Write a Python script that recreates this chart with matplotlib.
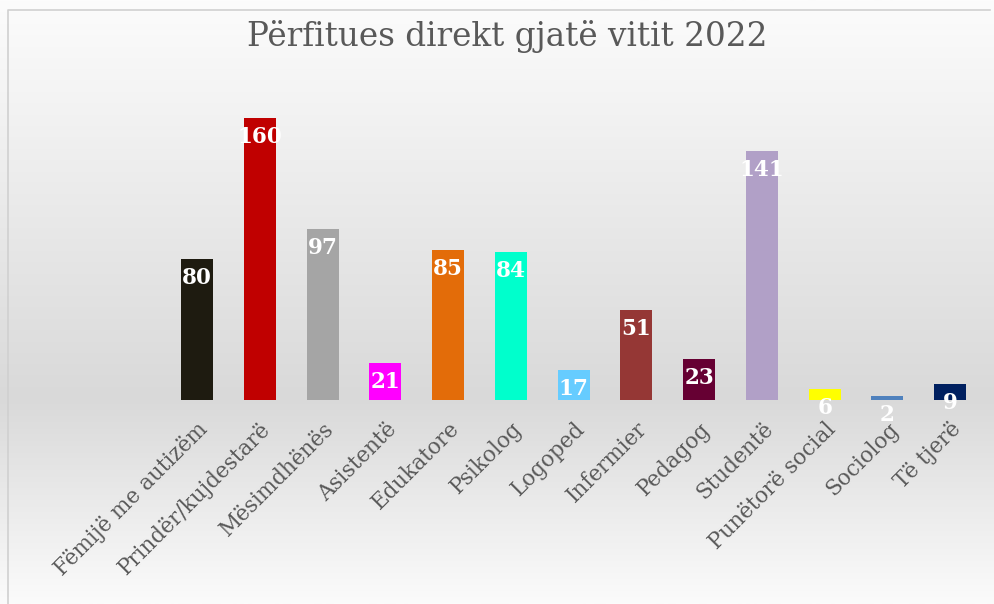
import numpy as np
import matplotlib.pyplot as plt
from matplotlib.colors import LinearSegmentedColormap

# Të dhënat
kategorite = ['Fëmijë me autizëm', 'Prindër/kujdestarë', 'Mësimdhënës', 'Asistentë',
              'Edukatore', 'Psikolog', 'Logoped', 'Infermier', 'Pedagog', 'Studentë',
              'Punëtorë social', 'Sociolog', 'Të tjerë']
vlerat = [80, 160, 97, 21, 85, 84, 17, 51, 23, 141, 6, 2, 9]
ngjyrat = ['#1E1B10', '#C00000', '#A5A5A5', '#FF00FF', '#E36C09', '#00FFCC', '#66CCFF',
           '#953735', '#660033', '#B1A0C7', '#FFFF00', '#4F81BD', '#002060']

fig = plt.figure(figsize=(9.95, 6.04), dpi=100)

# Sfondi me gradient
bg = fig.add_axes([0, 0, 1, 1], zorder=0)
cmap = LinearSegmentedColormap.from_list('bg', [(0, '#fcfcfc'), (0.66, '#d9d9d9'), (1, '#fbfbfb')])
bg.imshow(np.linspace(0, 1, 256).reshape(-1, 1), aspect='auto', cmap=cmap,
          extent=[0, 1, 0, 1], origin='upper')
bg.set_xlim(0, 1)
bg.set_ylim(0, 1)
bg.plot([0.008, 0.008, 0.995], [0.0, 0.983, 0.983], color='#d0d0d0', lw=1.2)
bg.axis('off')

ax = fig.add_axes([0.1665, 0.338, 0.82, 0.525], zorder=1)
ax.patch.set_alpha(0)
x = np.arange(len(kategorite))
ax.bar(x, vlerat, width=0.51, color=ngjyrat)
ax.set_xlim(-0.5, len(kategorite) - 0.5)
ax.set_ylim(0, 180)

# Etiketat e vlerave
for xi, v in zip(x, vlerat):
    ax.annotate(str(v), (xi, v), xytext=(0, -19), textcoords='offset pixels',
                ha='center', va='center', color='white', fontweight='bold',
                fontsize=15.5, family='DejaVu Serif')

ax.set_xticks(x)
ax.set_xticklabels(kategorite, rotation=45, ha='right', rotation_mode='anchor',
                   fontsize=15.5, color='#595959', family='DejaVu Serif')
ax.tick_params(axis='x', length=0, pad=13)
ax.set_yticks([])
for s in ax.spines.values():
    s.set_visible(False)

fig.text(0.51, 0.94, 'Përfitues direkt gjatë vitit 2022', ha='center', va='center',
         fontsize=23.5, color='#595959', family='DejaVu Serif')

fig.savefig('out.png', dpi=100)
